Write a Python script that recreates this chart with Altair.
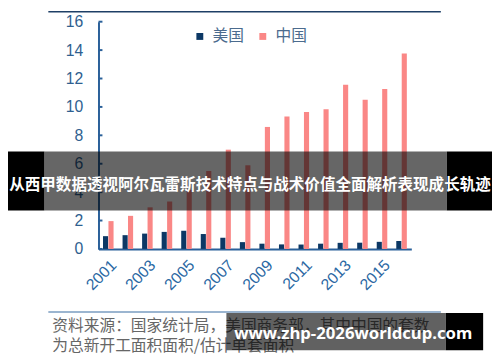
import altair as alt
import pandas as pd

# ---- data ----
years = list(range(2001, 2017))
us_values = [0.90, 0.97, 1.08, 1.20, 1.28, 1.05, 0.78, 0.48, 0.37, 0.32, 0.31, 0.37, 0.43, 0.44, 0.50, 0.56]
cn_values = [1.96, 2.33, 2.93, 3.34, 4.15, 5.49, 6.99, 5.89, 8.59, 9.33, 9.65, 9.83, 11.56, 10.50, 11.27, 13.76]
series_names = ["美国", "中国"]
series_colors = ["#0c3865", "#fa8786"]
y_ticks = [0, 2, 4, 6, 8, 10, 12, 14, 16]
x_label_years = years[::2]

banner_text = "从西甲数据透视阿尔瓦雷斯技术特点与战术价值全面解析表现成长轨迹"
source_line1 = "资料来源：国家统计局，美国商务部，其中中国的套数"
source_line2 = "为总新开工面积面积/估计单套面积"
watermark_text = "www.zhp-2026worldcup.com"

rows = []
for i, yr in enumerate(years):
    rows.append({"year": yr, "series": series_names[0], "value": us_values[i]})
    rows.append({"year": yr, "series": series_names[1], "value": cn_values[i]})
df = pd.DataFrame(rows)
tick_df = pd.DataFrame({"value": y_ticks})
one = pd.DataFrame({"a": [0]})

AXIS_BLUE = "#2a6099"
LABEL_BLUE = "#2f5f90"

y_axis = alt.Axis(
    title=None, values=y_ticks, grid=False, ticks=False,
    labelFontSize=16, labelColor=LABEL_BLUE, labelFont="Liberation Sans",
    domainColor=AXIS_BLUE, domainWidth=2, labelPadding=16,
)
y_scale = alt.Scale(domain=[0, 16], nice=False)

bars = alt.Chart(df).mark_bar().encode(
    x=alt.X(
        "year:O",
        scale=alt.Scale(paddingInner=0.46, paddingOuter=0.23),
        axis=alt.Axis(
            title=None, values=x_label_years, labelAngle=-45, ticks=False,
            labelFontSize=16, labelColor="#2b68a3", labelFont="Liberation Sans",
            domainColor=AXIS_BLUE, domainWidth=2, labelPadding=8,
        ),
    ),
    xOffset=alt.XOffset("series:N", scale=alt.Scale(domain=series_names, paddingInner=0.06)),
    y=alt.Y("value:Q", scale=y_scale, axis=y_axis),
    color=alt.Color(
        "series:N",
        scale=alt.Scale(domain=series_names, range=series_colors),
        legend=alt.Legend(
            title=None, orient="none", legendX=95, legendY=7, direction="horizontal",
            symbolType="square", symbolSize=49, symbolStrokeWidth=0,
            labelFontSize=16, labelColor="#4b6b8e", labelFont="Noto Sans CJK SC",
            labelOffset=5, columnPadding=10,
        ),
    ),
)

inner_ticks = alt.Chart(tick_df).mark_rule(color=AXIS_BLUE, strokeWidth=2).encode(
    y=alt.Y("value:Q", scale=y_scale, axis=y_axis),
    x=alt.value(0),
    x2=alt.value(4),
)

top_rule = alt.Chart(one).mark_rule(color="#1e3f66", strokeWidth=1.5).encode(
    x=alt.value(-51), x2=alt.value(348), y=alt.value(-10)
)
src_rule = alt.Chart(one).mark_rule(color="#7a9cc0", strokeWidth=1.5).encode(
    x=alt.value(-51), x2=alt.value(348), y=alt.value(295)
)

src1 = alt.Chart(one).mark_text(
    text=source_line1, align="left", baseline="middle", fontSize=16,
    font="Noto Sans CJK SC", color="#666666",
).encode(x=alt.value(-47), y=alt.value(309))
src2 = alt.Chart(one).mark_text(
    text=source_line2, align="left", baseline="middle", fontSize=16,
    font="Noto Sans CJK SC", color="#666666",
).encode(x=alt.value(-47), y=alt.value(330))

banner_mid = alt.Chart(one).mark_rect(color="#000000", opacity=0.6).encode(
    x=alt.value(-55), x2=alt.value(354), y=alt.value(132), y2=alt.value(192)
)
banner_left = alt.Chart(one).mark_rect(color="#000000").encode(
    x=alt.value(-92), x2=alt.value(-55), y=alt.value(132), y2=alt.value(192)
)
banner_right = alt.Chart(one).mark_rect(color="#000000").encode(
    x=alt.value(354), x2=alt.value(400), y=alt.value(132), y2=alt.value(192)
)
banner_label = alt.Chart(one).mark_text(
    text=banner_text, align="center", baseline="middle", fontSize=15.8,
    fontWeight="bold", font="Noto Sans CJK SC", color="#ffffff",
).encode(x=alt.value(154), y=alt.value(166))

wm_mid = alt.Chart(one).mark_rect(color="#000000", opacity=0.62).encode(
    x=alt.value(130), x2=alt.value(353), y=alt.value(296), y2=alt.value(334)
)
wm_right = alt.Chart(one).mark_rect(color="#000000").encode(
    x=alt.value(353), x2=alt.value(391), y=alt.value(296), y2=alt.value(334)
)
wm_label = alt.Chart(one).mark_text(
    text=watermark_text, align="center", baseline="middle", fontSize=17,
    fontWeight="bold", font="Noto Sans", color="#ffffff",
).encode(x=alt.value(259), y=alt.value(318))

chart = alt.layer(
    bars, inner_ticks, top_rule, src_rule, src1, src2,
    banner_mid, banner_left, banner_right, banner_label,
    wm_mid, wm_right, wm_label,
).properties(
    width=318, height=231,
    padding={"left": 92, "top": 11, "right": 82, "bottom": 112},
    autosize=alt.AutoSizeParams(type="none"),
).configure_view(stroke=None)

chart.save("out.html", embed_options={"renderer": "svg", "actions": False})
